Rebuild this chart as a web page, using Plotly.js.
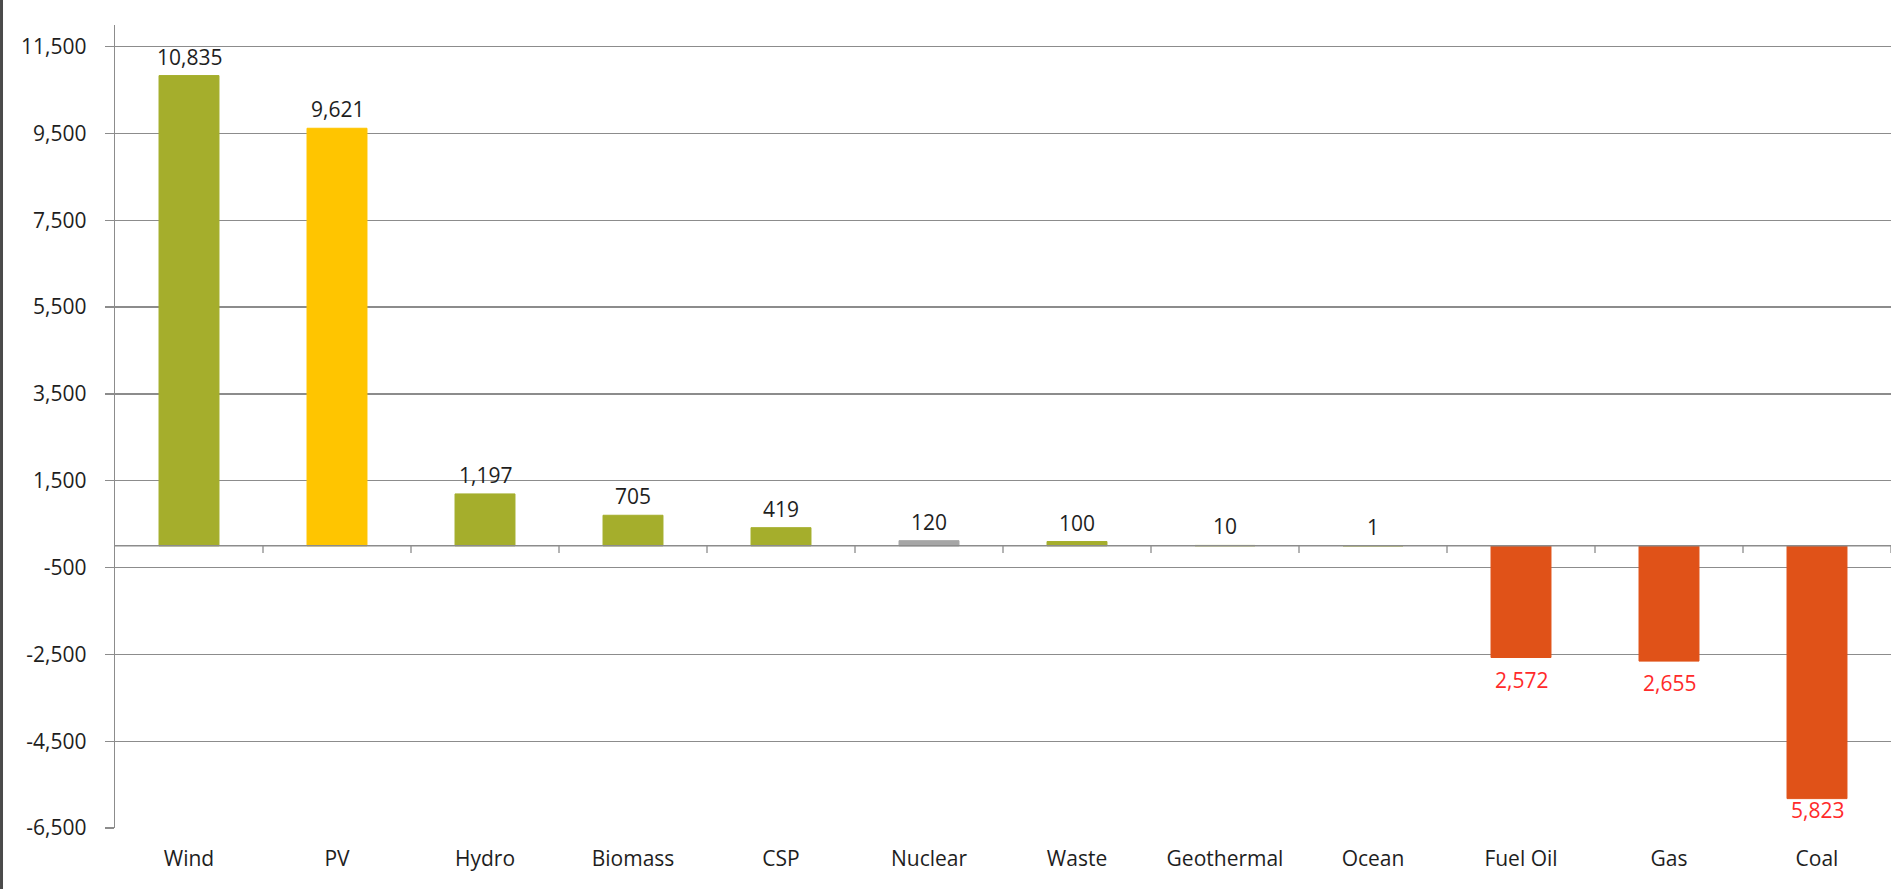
<!DOCTYPE html>
<html>
<head>
<meta charset="utf-8">
<script src="https://cdn.plot.ly/plotly-3.0.1.min.js"></script>
<style>
html,body{margin:0;padding:0;background:#fff;}
#chart{width:1895px;height:889px;}
</style>
</head>
<body>
<div id="chart"></div>
<script>
const categories = ["Wind","PV","Hydro","Biomass","CSP","Nuclear","Waste","Geothermal","Ocean","Fuel Oil","Gas","Coal"];
const values = [10835, 9621, 1197, 705, 419, 120, 100, 10, 1, -2572, -2655, -5823];
const barColors = ["#A5AE2C","#FFC500","#A5AE2C","#A5AE2C","#A5AE2C","#A6A6A6","#A5AE2C","#A5AE2C","#A5AE2C","#E05218","#E05218","#E05218"];
const yTicks = [-6500,-4500,-2500,-500,1500,3500,5500,7500,9500,11500];
const yTickText = yTicks.map(v => v.toLocaleString("en-US"));

const yMin = -6500, yMax = 12000;
const labelText = values.map(v => Math.abs(v).toLocaleString("en-US"));
const labelColors = values.map(v => v < 0 ? "#FF2A2A" : "#1E1E1E");

const trace = {
  type: "bar",
  x: categories,
  y: values,
  marker: {color: barColors, line: {color: barColors, width: 1}},
  hoverinfo: "x+y"
};

// value labels (kept inside the plot area, like the original)
const annotations = values.map((v, i) => {
  const overflow = v < 0 && (v - 900) < yMin;
  return {
    x: categories[i], y: overflow ? yMin : v, xref: "x", yref: "y",
    text: labelText[i], showarrow: false,
    yanchor: v < 0 ? (overflow ? "bottom" : "top") : "bottom",
    yshift: v < 0 ? (overflow ? 2 : -6) : 3,
    font: {family: "Open Sans, sans-serif", size: 21, color: labelColors[i]}
  };
});

// small tick marks below the zero line at category boundaries
const shapes = [];
for (let i = 0; i < categories.length; i++) {
  shapes.push({type: "line", xref: "x", yref: "y", x0: i + 0.5, x1: i + 0.5, y0: 0, y1: -165,
    line: {color: "#8C8C8C", width: 1.3}});
}
shapes.push({type: "line", xref: "x", yref: "y", x0: -0.5, x1: categories.length - 0.5, y0: 0, y1: 0,
  line: {color: "#8C8C8C", width: 1.5}, layer: "above"});
// left page border
shapes.push({type: "line", xref: "paper", yref: "paper", x0: -0.0639, x1: -0.0639, y0: -0.1, y1: 1.1,
  line: {color: "#4A4A4A", width: 3}});

const layout = {
  width: 1895, height: 889,
  margin: {l: 115, r: 4, t: 25, b: 61},
  paper_bgcolor: "#fff", plot_bgcolor: "#fff",
  showlegend: false,
  bargap: 0.595,
  font: {family: "Open Sans, sans-serif", size: 21, color: "#1E1E1E"},
  xaxis: {
    type: "category",
    range: [-0.5, categories.length - 0.5],
    showgrid: false, showline: false, zeroline: false,
    ticks: "", ticklabelstandoff: 16,
    tickfont: {family: "Open Sans, sans-serif", size: 21, color: "#1E1E1E"}
  },
  yaxis: {
    range: [yMin, yMax],
    tickvals: yTicks,
    ticktext: yTickText,
    showgrid: true, gridcolor: "#8C8C8C", gridwidth: 1.3,
    zeroline: false,
    showline: true, linecolor: "#8C8C8C", linewidth: 1.3,
    ticks: "outside", ticklen: 9, tickcolor: "#8C8C8C", tickwidth: 1.3,
    ticklabelstandoff: 14,
    tickfont: {family: "Open Sans, sans-serif", size: 21, color: "#1E1E1E"}
  },
  annotations: annotations,
  shapes: shapes
};

Plotly.newPlot("chart", [trace], layout, {displayModeBar: false, staticPlot: true});
</script>
</body>
</html>
